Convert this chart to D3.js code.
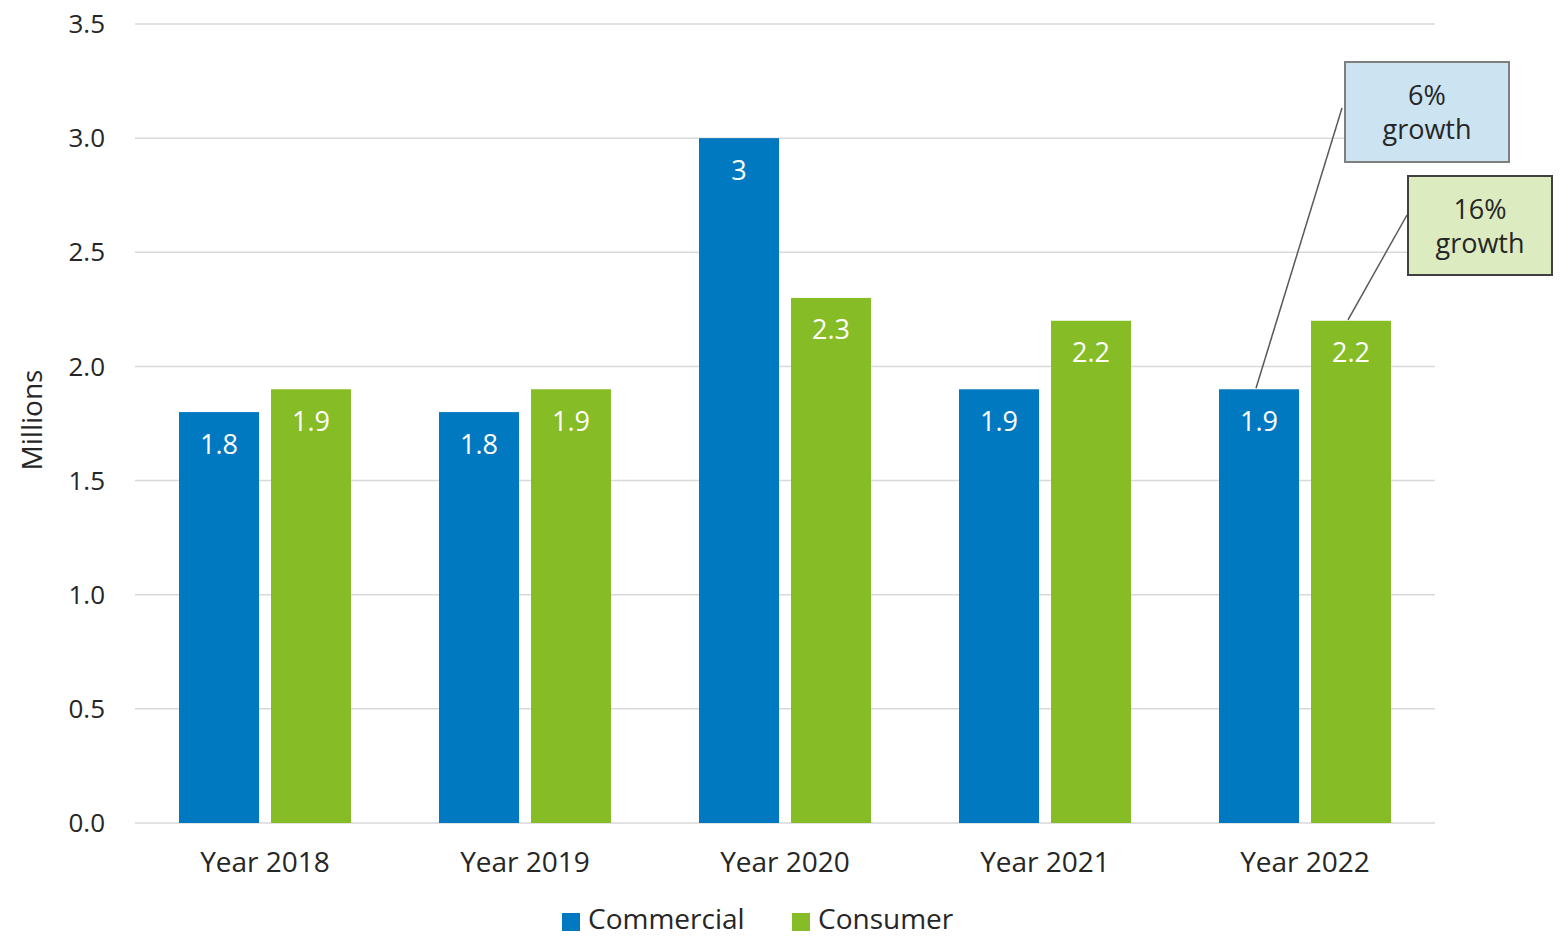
<!DOCTYPE html>
<html><head><meta charset="utf-8">
<script src="https://cdn.jsdelivr.net/npm/d3@7"></script>
<style>body{margin:0;background:#fff;} svg{display:block;} text{font-family:"Open Sans","Noto Sans",sans-serif;}</style>
</head><body>
<svg id="chart" width="1565" height="939"></svg>
<script>
const categories = ["Year 2018","Year 2019","Year 2020","Year 2021","Year 2022"];
const commercial = [1.8,1.8,3,1.9,1.9];
const consumer = [1.9,1.9,2.3,2.2,2.2];
const seriesNames = ["Commercial","Consumer"];
const yTicks = [0,0.5,1,1.5,2,2.5,3,3.5];
const colors = {Commercial:"#0079c1", Consumer:"#86bc25"};

const svg = d3.select("#chart");
const L=135, R=1435, T=24, B=823;
const x = d3.scaleBand().domain(categories).range([L,R]).paddingInner(0).paddingOuter(0);
const x1 = d3.scaleBand().domain(seriesNames).range([44, 216]).paddingInner(12/92);
const y = d3.scaleLinear().domain([0,3.5]).range([B,T]);

// grid
svg.append("g").selectAll("line").data(yTicks).join("line")
  .attr("x1",L).attr("x2",R).attr("y1",d=>y(d)).attr("y2",d=>y(d))
  .attr("stroke","#d9d9d9").attr("stroke-width",1.5);
// y tick labels
svg.append("g").selectAll("text").data(yTicks).join("text")
  .attr("x",105).attr("y",d=>y(d)).attr("dy","0.35em").attr("text-anchor","end")
  .attr("font-size",26).attr("fill","#262626").text(d=>d.toFixed(1));
// y label
svg.append("text").attr("transform","translate(42,420) rotate(-90)").attr("text-anchor","middle")
  .attr("font-size",28).attr("fill","#262626").text("Millions");

const data = categories.map((c,i)=>({cat:c, vals:[{s:"Commercial",v:commercial[i]},{s:"Consumer",v:consumer[i]}]}));
const g = svg.append("g").selectAll("g").data(data).join("g").attr("transform",d=>`translate(${x(d.cat)},0)`);
g.selectAll("rect").data(d=>d.vals).join("rect")
  .attr("x",d=>x1(d.s)).attr("width",x1.bandwidth())
  .attr("y",d=>y(d.v)).attr("height",d=>B-y(d.v)).attr("fill",d=>colors[d.s]);
g.selectAll("text.v").data(d=>d.vals).join("text").attr("class","v")
  .attr("x",d=>x1(d.s)+x1.bandwidth()/2).attr("y",d=>y(d.v)+32).attr("dy","0.35em")
  .attr("text-anchor","middle").attr("font-size",27).attr("fill","#fff").text(d=>d.v);

// x labels
svg.append("g").selectAll("text").data(categories).join("text")
  .attr("x",d=>x(d)+x.bandwidth()/2).attr("y",862).attr("dy","0.35em").attr("text-anchor","middle")
  .attr("font-size",28).attr("fill","#262626").text(d=>d);

// legend
const leg = [{s:"Commercial",x:562},{s:"Consumer",x:792}];
const lg = svg.append("g").selectAll("g").data(leg).join("g");
lg.append("rect").attr("x",d=>d.x).attr("y",913).attr("width",18).attr("height",18).attr("fill",d=>colors[d.s]);
lg.append("text").attr("x",d=>d.x+26).attr("y",929).attr("font-size",28).attr("fill","#262626").text(d=>d.s);

// callouts
const last = categories[4];
const callouts = [
  {s:"Commercial", v:commercial[4], box:[1345,62,164,100], fill:"#cce3f2", stroke:"#7f7f7f", lines:["6%","growth"], ax:1342, ay:108},
  {s:"Consumer", v:consumer[4], box:[1408,176,144,99], fill:"#dcebc0", stroke:"#404040", lines:["16%","growth"], ax:1407, ay:215}
];
callouts.forEach(c=>{
  const px = x(last)+x1(c.s)+x1.bandwidth()/2 - 3;
  svg.append("line").attr("x1",c.ax).attr("y1",c.ay).attr("x2",px).attr("y2",y(c.v)-1)
    .attr("stroke","#595959").attr("stroke-width",1.5);
  svg.append("rect").attr("x",c.box[0]).attr("y",c.box[1]).attr("width",c.box[2]).attr("height",c.box[3])
    .attr("fill",c.fill).attr("stroke",c.stroke).attr("stroke-width",2);
  c.lines.forEach((t,i)=>svg.append("text").attr("x",c.box[0]+c.box[2]/2).attr("y",c.box[1]+34+i*34).attr("dy","0.35em")
    .attr("text-anchor","middle").attr("font-size",27).attr("fill","#262626").text(t));
});
</script>
</body></html>
